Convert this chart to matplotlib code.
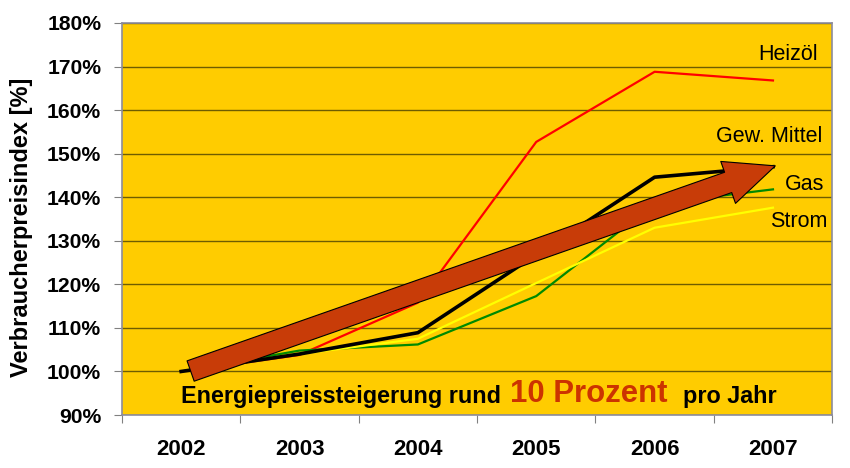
import numpy as np
import matplotlib.pyplot as plt
from matplotlib.patches import FancyArrowPatch
from matplotlib.ticker import FixedLocator, FuncFormatter

plt.rcParams['font.family'] = ['Liberation Sans', 'DejaVu Sans']

jahre = ['2002', '2003', '2004', '2005', '2006', '2007']
heizoel = [100, 103.8, 115.8, 152.7, 168.8, 166.8]
gas = [100, 104.8, 106.2, 117.3, 138.5, 141.8]
strom = [100, 104.0, 107.5, 120.3, 133.0, 137.6]
mittel = [100, 104.0, 108.9, 126.8, 144.6, 147.0]

# Trendpfeil (Anfang / Ende)
pfeil_start = (0.08, 100.1)
pfeil_ende = (5.02, 147.2)

x = np.arange(len(jahre))

fig = plt.figure(figsize=(8.5, 4.68), dpi=100)
ax = fig.add_axes([0.1435, 0.1132, 0.8355, 0.8377])
ax.set_facecolor('#FFCC00')

ax.plot(x, heizoel, color='#FF0000', lw=1.6, zorder=3)
ax.plot(x, gas, color='#008A00', lw=1.6, zorder=3)
ax.plot(x, strom, color='#FFFF00', lw=1.6, zorder=3)
ax.plot(x, mittel, color='black', lw=2.6, zorder=4)

arrow = FancyArrowPatch(pfeil_start, pfeil_ende,
                        arrowstyle='simple,tail_width=15.5,head_width=32,head_length=36',
                        mutation_scale=1, facecolor='#C83C08', edgecolor='black',
                        lw=0.8, zorder=5, shrinkA=0, shrinkB=0)
ax.add_patch(arrow)

# Beschriftung der Linien
ax.text(5.38, 172.7, 'Heizöl', ha='right', va='center', fontsize=15.5)
ax.text(5.42, 153.9, 'Gew. Mittel', ha='right', va='center', fontsize=15.5)
ax.text(5.43, 142.9, 'Gas', ha='right', va='center', fontsize=15.5)
ax.text(5.46, 134.4, 'Strom', ha='right', va='center', fontsize=15.5)

ax.text(0.0, 94.2, 'Energiepreissteigerung rund', ha='left', va='center',
        fontsize=16.8, fontweight='bold')
ax.text(2.78, 94.9, '10 Prozent', ha='left', va='center', fontsize=22.4,
        fontweight='bold', color='#CC3300')
ax.text(4.24, 94.2, 'pro Jahr', ha='left', va='center', fontsize=16.8,
        fontweight='bold')

ax.set_xlim(-0.5, 5.5)
ax.set_ylim(90, 180)
ax.yaxis.set_major_locator(FixedLocator(np.arange(90, 181, 10)))
ax.yaxis.set_major_formatter(FuncFormatter(lambda v, p: '%d%%' % v))
ax.yaxis.grid(True, color='#6E5C00', lw=1)
ax.set_axisbelow(True)

ax.set_xticks(np.arange(-0.5, 6, 1))
ax.set_xticklabels([])
ax.set_xticks(x, minor=True)
ax.set_xticklabels(jahre, minor=True)
ax.tick_params(axis='x', which='major', length=6, color='#808080', direction='out')
ax.tick_params(axis='x', which='minor', length=0, pad=17, labelsize=16)
ax.tick_params(axis='y', length=6, color='#808080', labelsize=15.2, pad=9)
for lab in ax.get_xticklabels(minor=True) + ax.get_yticklabels():
    lab.set_fontweight('bold')

for s in ax.spines.values():
    s.set_color('#8C8C9C')
    s.set_linewidth(1.2)

ax.set_ylabel('Verbraucherpreisindex [%]', fontsize=17, fontweight='bold')
ax.yaxis.set_label_coords(-0.125, 0.48)

fig.savefig('out.png', dpi=100)
